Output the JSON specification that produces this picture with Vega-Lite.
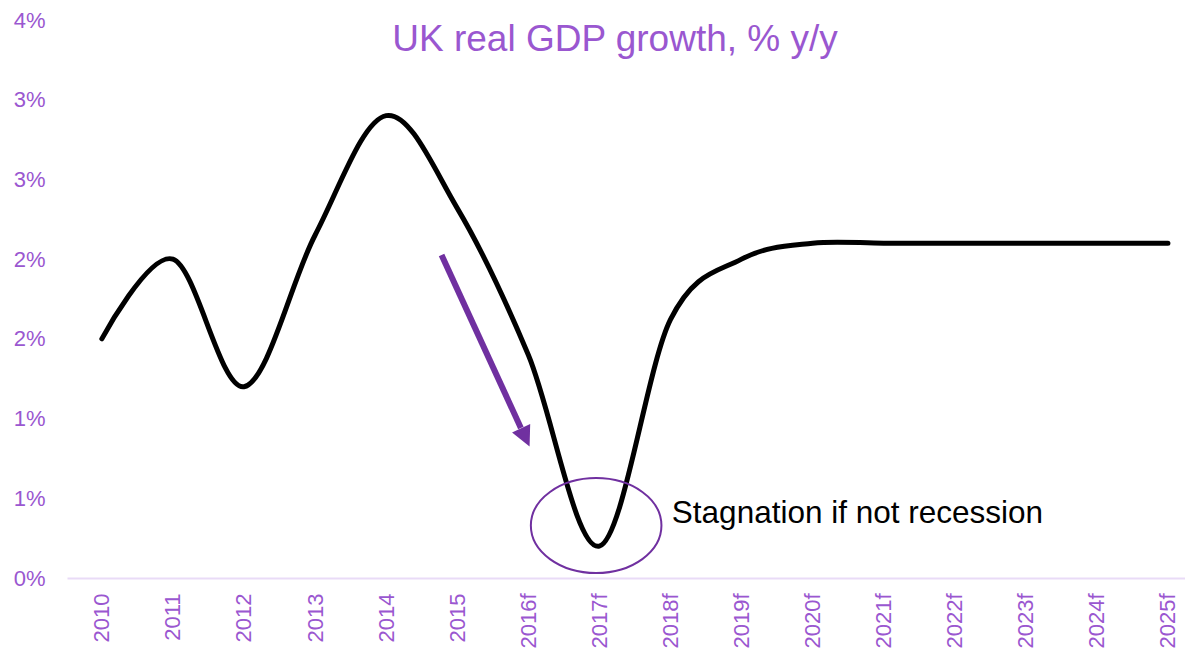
{
  "$schema": "https://vega.github.io/schema/vega-lite/v6.json",
  "width": 1118,
  "height": 558,
  "autosize": {"type": "none"},
  "padding": {"left": 67, "top": 20, "right": 0, "bottom": 75},
  "background": "white",
  "config": {"view": {"stroke": null}, "font": "Liberation Sans"},
  "title": {
    "text": "UK real GDP growth, % y/y",
    "fontSize": 37,
    "font": "Liberation Sans",
    "fontWeight": "normal",
    "color": "#9a57d0",
    "anchor": "middle",
    "frame": "group",
    "baseline": "alphabetic",
    "offset": 0,
    "dy": 79,
    "dx": -11
  },
  "datasets": {
    "gdp": [
      {"year": 2010, "growth": 1.5},
      {"year": 2011, "growth": 2.0},
      {"year": 2012, "growth": 1.2},
      {"year": 2013, "growth": 2.15},
      {"year": 2014, "growth": 2.9},
      {"year": 2015, "growth": 2.32},
      {"year": 2016, "growth": 1.4},
      {"year": 2017, "growth": 0.2},
      {"year": 2018, "growth": 1.62},
      {"year": 2019, "growth": 2.0},
      {"year": 2020, "growth": 2.1},
      {"year": 2021, "growth": 2.1},
      {"year": 2022, "growth": 2.1},
      {"year": 2023, "growth": 2.1},
      {"year": 2024, "growth": 2.1},
      {"year": 2025, "growth": 2.1}
    ],
    "arrow": [{"year": 2014.78, "growth": 2.026, "year2": 2015.896, "growth2": 0.941}],
    "head": [{"year": 2015.959, "growth": 0.882}],
    "circle": [{"year": 2016.955, "growth": 0.329}],
    "note": [{"year": 2018.02, "growth": 0.345, "label": "Stagnation if not recession"}]
  },
  "encoding": {
    "x": {
      "field": "year",
      "type": "quantitative",
      "scale": {"domain": [2009.51, 2025.24], "nice": false, "zero": false},
      "axis": {
        "title": null,
        "values": [2010, 2011, 2012, 2013, 2014, 2015, 2016, 2017, 2018, 2019, 2020, 2021, 2022, 2023, 2024, 2025],
        "labelExpr": "datum.value >= 2016 ? datum.value + 'f' : '' + datum.value",
        "labelAngle": -90,
        "labelAlign": "right",
        "labelBaseline": "middle",
        "labelFontSize": 22,
        "labelFont": "Liberation Sans",
        "labelColor": "#9a57d0",
        "ticks": false,
        "tickSize": 0,
        "labelPadding": 15,
        "domainColor": "#e9dbf7",
        "domainWidth": 2,
        "grid": false,
        "labelFlush": false,
        "labelOverlap": false,
        "labelBound": false
      }
    },
    "y": {
      "field": "growth",
      "type": "quantitative",
      "scale": {"domain": [0, 3.5], "nice": false, "zero": false},
      "axis": {
        "title": null,
        "values": [0, 0.5, 1, 1.5, 2, 2.5, 3, 3.5],
        "labelExpr": "ceil(datum.value) + '%'",
        "domain": false,
        "ticks": false,
        "tickSize": 0,
        "grid": false,
        "labelPadding": 22,
        "labelFontSize": 22,
        "labelFont": "Liberation Sans",
        "labelColor": "#9a57d0",
        "labelFlush": false,
        "labelOverlap": false,
        "labelBound": false
      }
    }
  },
  "layer": [
    {
      "data": {"name": "gdp"},
      "mark": {"type": "line", "interpolate": "cardinal", "color": "black", "strokeWidth": 5, "strokeCap": "round"}
    },
    {
      "data": {"name": "arrow"},
      "mark": {"type": "rule", "color": "#7030a0", "strokeWidth": 6},
      "encoding": {
        "x2": {"field": "year2"},
        "y2": {"field": "growth2"}
      }
    },
    {
      "data": {"name": "head"},
      "mark": {"type": "point", "shape": "M-1,-1L1,-1L0,1Z", "size": 400, "angle": 335, "filled": true, "color": "#7030a0", "opacity": 1, "strokeWidth": 0}
    },
    {
      "data": {"name": "circle"},
      "mark": {"type": "point", "shape": "M-1,0A1,0.727 0 1,1 1,0A1,0.727 0 1,1 -1,0Z", "size": 17056, "filled": false, "color": "#7030a0", "strokeWidth": 2, "opacity": 1}
    },
    {
      "data": {"name": "note"},
      "mark": {"type": "text", "align": "left", "baseline": "alphabetic", "fontSize": 31.5, "font": "Liberation Sans", "color": "black"},
      "encoding": {"text": {"field": "label"}}
    }
  ]
}
